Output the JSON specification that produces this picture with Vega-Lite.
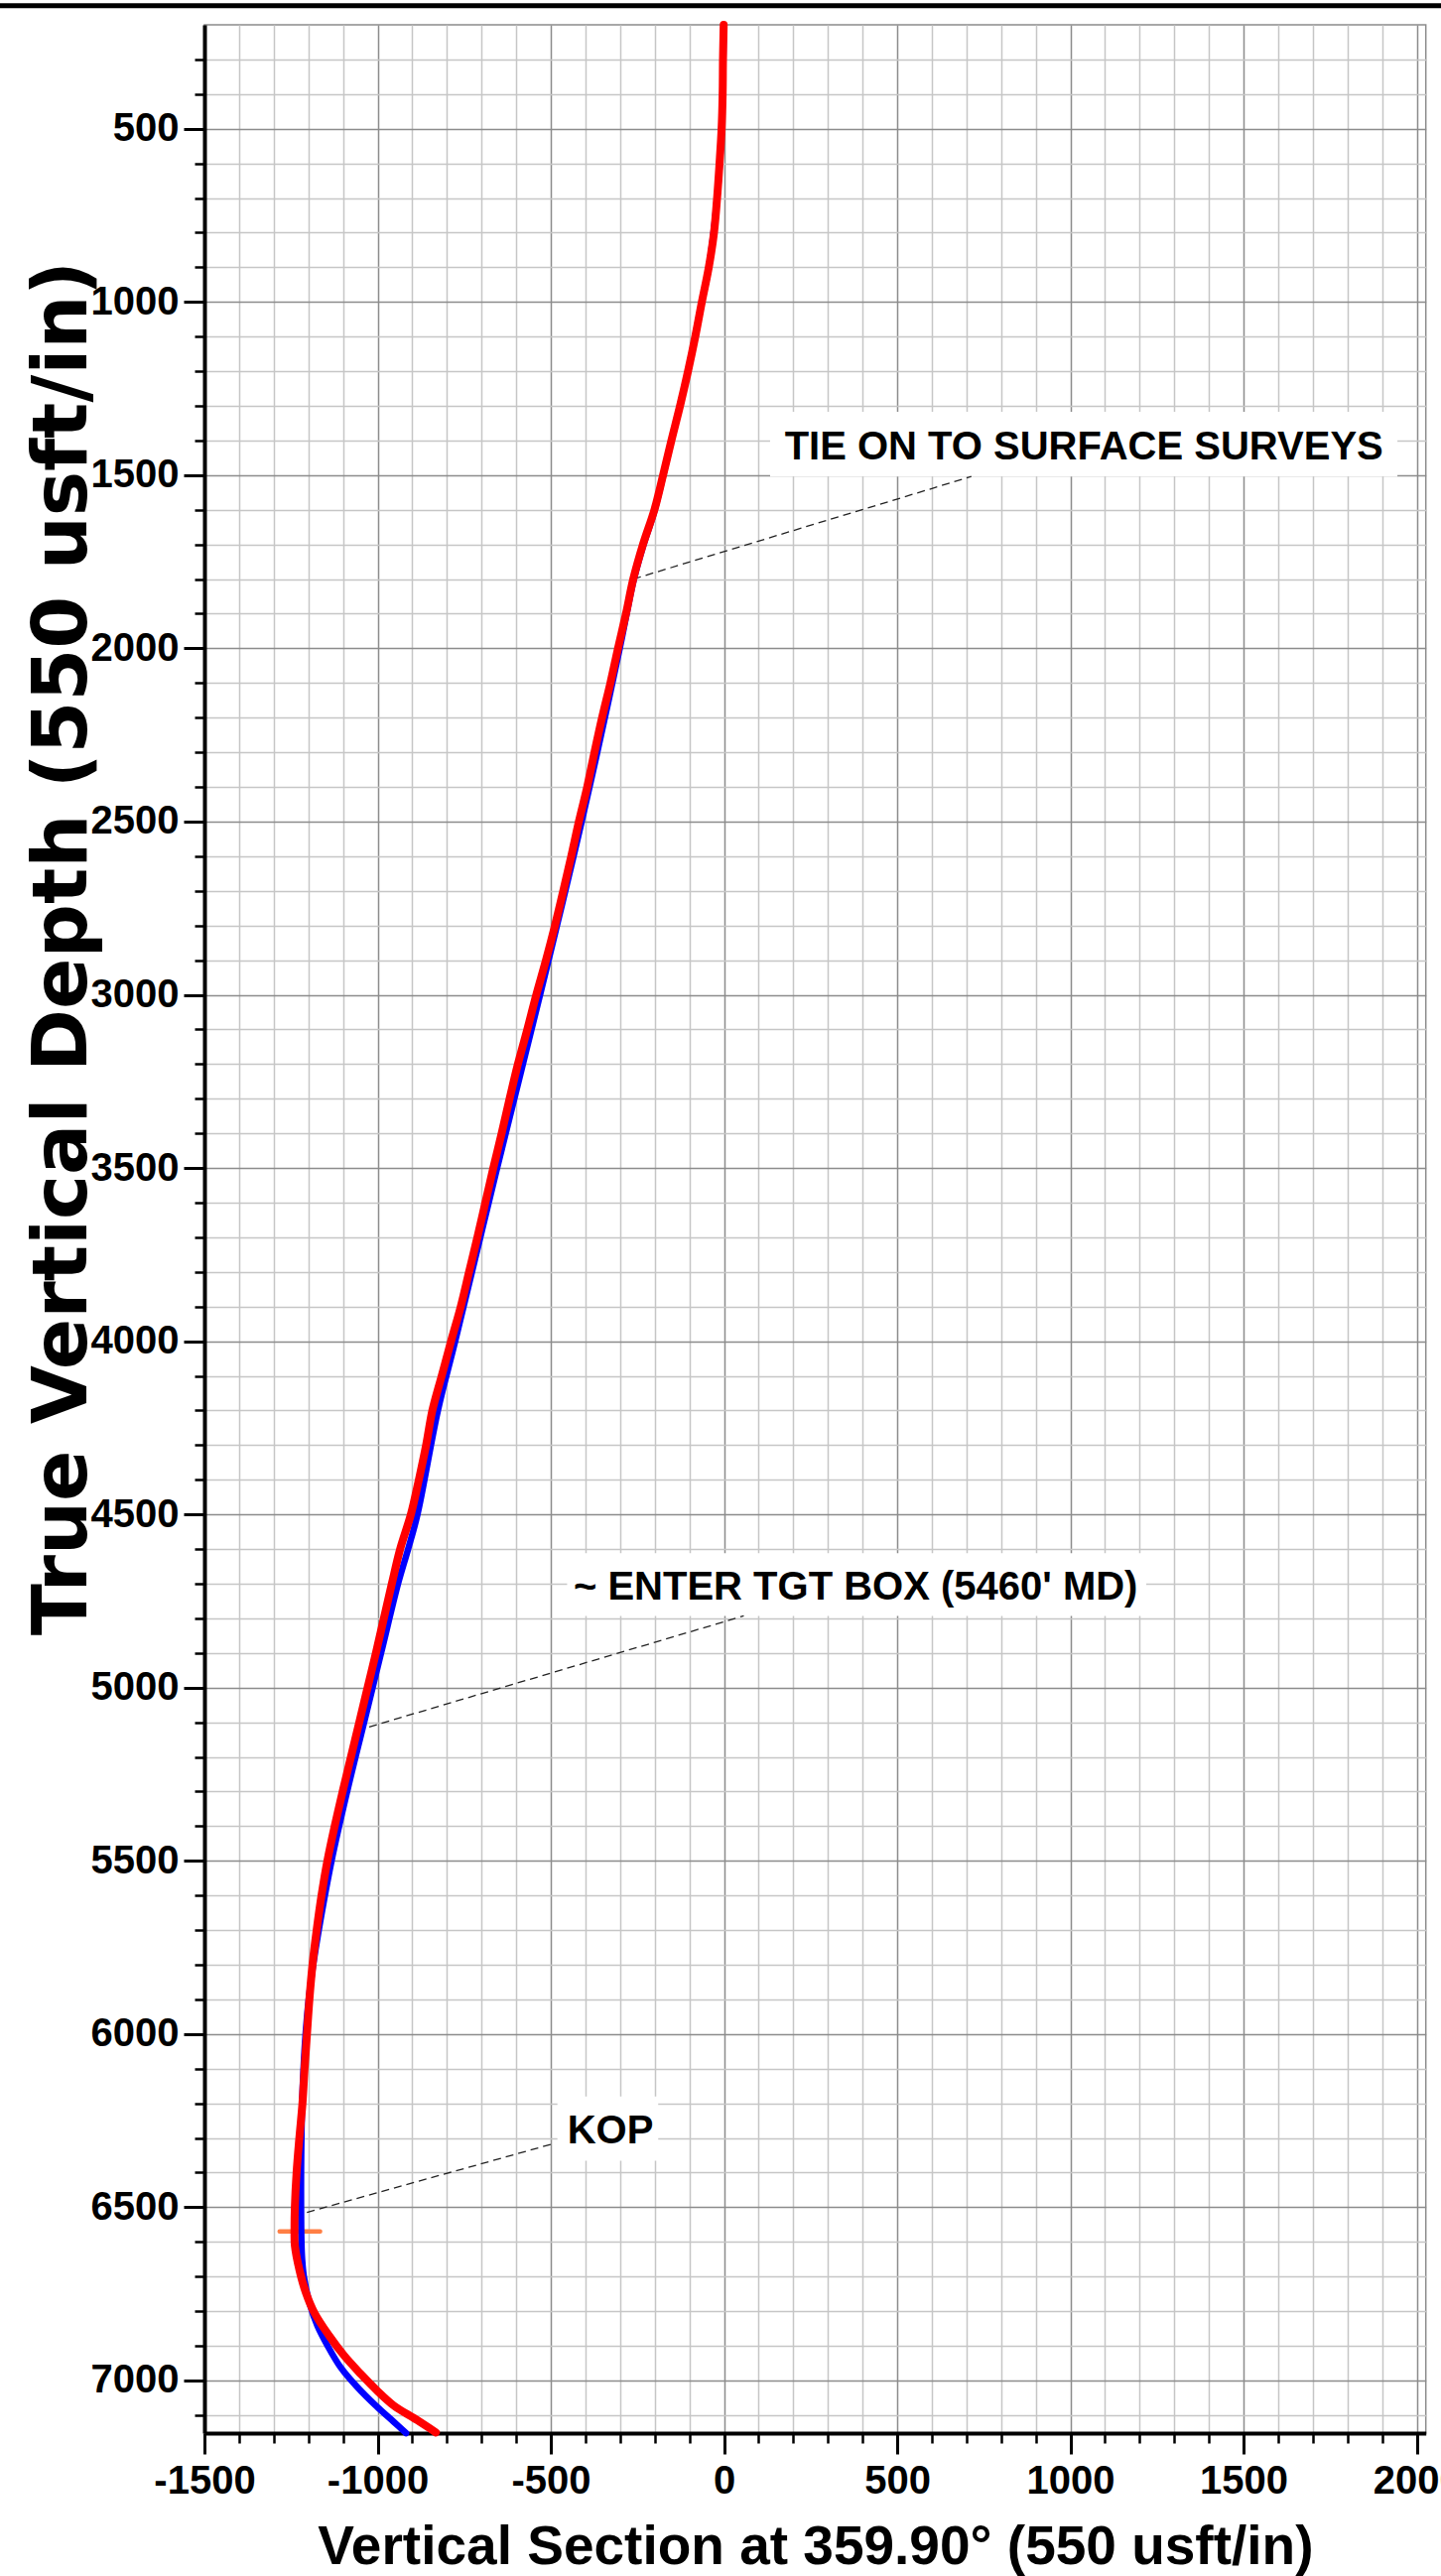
{
  "$schema": "https://vega.github.io/schema/vega-lite/v6.json",
  "width": 1230.7,
  "height": 2427,
  "autosize": {"type": "none"},
  "padding": {"left": 206, "top": 25, "right": 15.3, "bottom": 144},
  "background": "white",
  "config": {
    "view": {"stroke": "#8c8c8c", "strokeWidth": 1.5},
    "font": "Liberation Sans"
  },
  "datasets": {
    "actual": [
      {"tvd": 200, "vs": -1}, {"tvd": 300, "vs": -3}, {"tvd": 400, "vs": -4}, {"tvd": 500, "vs": -7},
      {"tvd": 600, "vs": -13}, {"tvd": 700, "vs": -20}, {"tvd": 800, "vs": -29}, {"tvd": 900, "vs": -44},
      {"tvd": 1000, "vs": -64}, {"tvd": 1100, "vs": -83}, {"tvd": 1200, "vs": -104}, {"tvd": 1300, "vs": -127},
      {"tvd": 1400, "vs": -152}, {"tvd": 1500, "vs": -176}, {"tvd": 1600, "vs": -201}, {"tvd": 1700, "vs": -234},
      {"tvd": 1800, "vs": -262}, {"tvd": 1900, "vs": -283}, {"tvd": 2000, "vs": -306}, {"tvd": 2100, "vs": -328},
      {"tvd": 2200, "vs": -352}, {"tvd": 2300, "vs": -374}, {"tvd": 2400, "vs": -395}, {"tvd": 2500, "vs": -419},
      {"tvd": 2600, "vs": -441}, {"tvd": 2700, "vs": -464}, {"tvd": 2800, "vs": -488}, {"tvd": 2900, "vs": -514},
      {"tvd": 3000, "vs": -542}, {"tvd": 3100, "vs": -568}, {"tvd": 3200, "vs": -595}, {"tvd": 3300, "vs": -619},
      {"tvd": 3400, "vs": -642}, {"tvd": 3500, "vs": -666}, {"tvd": 3600, "vs": -689}, {"tvd": 3700, "vs": -712},
      {"tvd": 3800, "vs": -736}, {"tvd": 3900, "vs": -760}, {"tvd": 4000, "vs": -788}, {"tvd": 4100, "vs": -815},
      {"tvd": 4200, "vs": -842}, {"tvd": 4300, "vs": -860}, {"tvd": 4400, "vs": -881}, {"tvd": 4500, "vs": -904},
      {"tvd": 4600, "vs": -935}, {"tvd": 4700, "vs": -959}, {"tvd": 4800, "vs": -982}, {"tvd": 4900, "vs": -1005},
      {"tvd": 5000, "vs": -1029}, {"tvd": 5100, "vs": -1053}, {"tvd": 5200, "vs": -1077}, {"tvd": 5300, "vs": -1101},
      {"tvd": 5400, "vs": -1124}, {"tvd": 5500, "vs": -1145}, {"tvd": 5600, "vs": -1162}, {"tvd": 5700, "vs": -1176},
      {"tvd": 5800, "vs": -1188}, {"tvd": 5900, "vs": -1197}, {"tvd": 6000, "vs": -1204}, {"tvd": 6100, "vs": -1211},
      {"tvd": 6200, "vs": -1217}, {"tvd": 6300, "vs": -1226}, {"tvd": 6400, "vs": -1234}, {"tvd": 6500, "vs": -1239},
      {"tvd": 6565, "vs": -1240}, {"tvd": 6610, "vs": -1239}, {"tvd": 6680, "vs": -1226}, {"tvd": 6747, "vs": -1207},
      {"tvd": 6804, "vs": -1183}, {"tvd": 6871, "vs": -1140}, {"tvd": 6928, "vs": -1097}, {"tvd": 6981, "vs": -1049},
      {"tvd": 7029, "vs": -1002}, {"tvd": 7072, "vs": -954}, {"tvd": 7114, "vs": -887}, {"tvd": 7150, "vs": -832}
    ],
    "plan": [
      {"tvd": 200, "vs": -1}, {"tvd": 500, "vs": -7}, {"tvd": 700, "vs": -20}, {"tvd": 900, "vs": -44},
      {"tvd": 1000, "vs": -64}, {"tvd": 1200, "vs": -104}, {"tvd": 1400, "vs": -152}, {"tvd": 1600, "vs": -200},
      {"tvd": 1700, "vs": -232}, {"tvd": 1800, "vs": -260}, {"tvd": 1900, "vs": -281}, {"tvd": 2000, "vs": -301},
      {"tvd": 2500, "vs": -411}, {"tvd": 3000, "vs": -531}, {"tvd": 3500, "vs": -655}, {"tvd": 4000, "vs": -776},
      {"tvd": 4200, "vs": -826}, {"tvd": 4500, "vs": -885}, {"tvd": 4600, "vs": -912}, {"tvd": 4700, "vs": -941},
      {"tvd": 4900, "vs": -990}, {"tvd": 5100, "vs": -1039}, {"tvd": 5300, "vs": -1088}, {"tvd": 5500, "vs": -1133},
      {"tvd": 5700, "vs": -1170}, {"tvd": 5800, "vs": -1186}, {"tvd": 5900, "vs": -1199}, {"tvd": 6000, "vs": -1208},
      {"tvd": 6100, "vs": -1214}, {"tvd": 6200, "vs": -1218}, {"tvd": 6300, "vs": -1220}, {"tvd": 6400, "vs": -1221},
      {"tvd": 6500, "vs": -1221}, {"tvd": 6600, "vs": -1220}, {"tvd": 6650, "vs": -1218}, {"tvd": 6700, "vs": -1213},
      {"tvd": 6776, "vs": -1197}, {"tvd": 6842, "vs": -1174}, {"tvd": 6899, "vs": -1145}, {"tvd": 6962, "vs": -1107},
      {"tvd": 7019, "vs": -1059}, {"tvd": 7076, "vs": -1002}, {"tvd": 7119, "vs": -954}, {"tvd": 7152, "vs": -918}
    ],
    "boxes": [
      {"x1": 133, "x2": 1944, "y1": 1317, "y2": 1504},
      {"x1": -453, "x2": 1219, "y1": 4612, "y2": 4793},
      {"x1": -481, "x2": -190, "y1": 6180, "y2": 6366}
    ],
    "leaders": [
      {"x1": -262, "y1": 1800, "x2": 714, "y2": 1504},
      {"x1": -1060, "y1": 5124, "x2": 57, "y2": 4793},
      {"x1": -1240, "y1": 6525, "x2": -495, "y2": 6317}
    ],
    "labels": [
      {"vs": 1039, "tvd": 1456, "text": "TIE ON TO SURFACE SURVEYS"},
      {"vs": 380, "tvd": 4746, "text": "~ ENTER TGT BOX (5460' MD)"},
      {"vs": -328, "tvd": 6317, "text": "KOP"}
    ],
    "kop": [{"x1": -1283, "x2": -1166, "tvd": 6570}],
    "band": [{"x1": -2100, "x2": 2100, "tvd": 145}]
  },
  "resolve": {"axis": {"x": "independent", "y": "independent"}},
  "layer": [
    {
      "data": {"name": "actual"},
      "mark": {"type": "point", "opacity": 0},
      "encoding": {
        "x": {"field": "vs", "type": "quantitative",
          "scale": {"domain": [-1500, 2026], "nice": false, "zero": false},
          "axis": {"orient": "bottom", "title": null, "labels": false, "domain": false,
            "values": [-1400,-1300,-1200,-1100,-900,-800,-700,-600,-400,-300,-200,-100,100,200,300,400,600,700,800,900,1100,1200,1300,1400,1600,1700,1800,1900],
            "grid": true, "gridColor": "#c6c6c6", "gridWidth": 1.5,
            "ticks": true, "tickSize": 10, "tickWidth": 2.5, "tickColor": "#000"}},
        "y": {"field": "tvd", "type": "quantitative",
          "scale": {"domain": [200, 7152], "nice": false, "zero": false, "reverse": true},
          "axis": {"orient": "left", "title": null, "labels": false, "domain": false,
            "values": [300,400,600,700,800,900,1100,1200,1300,1400,1600,1700,1800,1900,2100,2200,2300,2400,2600,2700,2800,2900,3100,3200,3300,3400,3600,3700,3800,3900,4100,4200,4300,4400,4600,4700,4800,4900,5100,5200,5300,5400,5600,5700,5800,5900,6100,6200,6300,6400,6600,6700,6800,6900,7100],
            "grid": true, "gridColor": "#c6c6c6", "gridWidth": 1.5,
            "ticks": true, "tickSize": 10, "tickWidth": 2.5, "tickColor": "#000"}}
      }
    },
    {
      "data": {"name": "actual"},
      "mark": {"type": "point", "opacity": 0},
      "encoding": {
        "x": {"field": "vs", "type": "quantitative",
          "scale": {"domain": [-1500, 2026], "nice": false, "zero": false},
          "axis": {"orient": "bottom", "values": [-1500,-1000,-500,0,500,1000,1500,2000],
            "grid": true, "gridColor": "#8c8c8c", "gridWidth": 1.5,
            "tickSize": 21, "tickWidth": 3, "tickColor": "#000",
            "domain": true, "domainColor": "#000", "domainWidth": 4,
            "labelFont": "Liberation Sans", "labelFontSize": 40, "labelFontWeight": "bold", "labelColor": "#000",
            "labelPadding": 7, "labelFlush": false, "labelOverlap": false, "labelBound": false,
            "labelExpr": "toString(datum.value)",
            "title": "Vertical Section at 359.90° (550 usft/in)",
            "titleFont": "Liberation Sans", "titleFontSize": 55, "titleFontWeight": "bold", "titleColor": "#000",
            "titleY": 131, "titleBaseline": "alphabetic"}},
        "y": {"field": "tvd", "type": "quantitative",
          "scale": {"domain": [200, 7152], "nice": false, "zero": false, "reverse": true},
          "axis": {"orient": "left", "values": [500,1000,1500,2000,2500,3000,3500,4000,4500,5000,5500,6000,6500,7000],
            "grid": true, "gridColor": "#8c8c8c", "gridWidth": 1.5,
            "tickSize": 21, "tickWidth": 3, "tickColor": "#000",
            "domain": true, "domainColor": "#000", "domainWidth": 4,
            "labelFont": "Liberation Sans", "labelFontSize": 40, "labelFontWeight": "bold", "labelColor": "#000",
            "labelPadding": 5, "labelOverlap": false, "labelBound": false,
            "labelExpr": "toString(datum.value)",
            "title": "True Vertical Depth (550 usft/in)",
            "titleFont": "DejaVu Sans", "titleFontSize": 76, "titleFontWeight": "bold", "titleColor": "#000",
            "titleAngle": 270, "titleAlign": "center", "titleBaseline": "alphabetic",
            "titleX": -120, "titleY": 930}}
      }
    },
    {
      "data": {"name": "boxes"},
      "mark": {"type": "rect", "color": "white"},
      "encoding": {
        "x": {"field": "x1", "type": "quantitative", "axis": null},
        "x2": {"field": "x2"},
        "y": {"field": "y1", "type": "quantitative", "axis": null},
        "y2": {"field": "y2"}
      }
    },
    {
      "data": {"name": "leaders"},
      "mark": {"type": "rule", "color": "#222222", "strokeWidth": 1.3, "strokeDash": [8, 5]},
      "encoding": {
        "x": {"field": "x1", "type": "quantitative", "axis": null},
        "x2": {"field": "x2"},
        "y": {"field": "y1", "type": "quantitative", "axis": null},
        "y2": {"field": "y2"}
      }
    },
    {
      "data": {"name": "kop"},
      "mark": {"type": "rule", "color": "#ff7f45", "strokeWidth": 4.5, "strokeCap": "round"},
      "encoding": {
        "x": {"field": "x1", "type": "quantitative", "axis": null},
        "x2": {"field": "x2"},
        "y": {"field": "tvd", "type": "quantitative", "axis": null}
      }
    },
    {
      "data": {"name": "plan"},
      "mark": {"type": "line", "color": "#0000ff", "strokeWidth": 6.5, "strokeCap": "round", "strokeJoin": "round", "interpolate": "catmull-rom"},
      "encoding": {
        "x": {"field": "vs", "type": "quantitative", "axis": null},
        "y": {"field": "tvd", "type": "quantitative", "axis": null},
        "order": {"field": "tvd", "type": "quantitative"}
      }
    },
    {
      "data": {"name": "actual"},
      "mark": {"type": "line", "color": "#ff0000", "strokeWidth": 8, "strokeCap": "round", "strokeJoin": "round", "interpolate": "catmull-rom"},
      "encoding": {
        "x": {"field": "vs", "type": "quantitative", "axis": null},
        "y": {"field": "tvd", "type": "quantitative", "axis": null},
        "order": {"field": "tvd", "type": "quantitative"}
      }
    },
    {
      "data": {"name": "labels"},
      "mark": {"type": "text", "font": "Liberation Sans", "fontSize": 40, "fontWeight": "bold", "color": "#000", "align": "center", "baseline": "alphabetic"},
      "encoding": {
        "x": {"field": "vs", "type": "quantitative", "axis": null},
        "y": {"field": "tvd", "type": "quantitative", "axis": null},
        "text": {"field": "text"}
      }
    },
    {
      "data": {"name": "band"},
      "mark": {"type": "rule", "color": "#000", "strokeWidth": 5},
      "encoding": {
        "x": {"field": "x1", "type": "quantitative", "axis": null},
        "x2": {"field": "x2"},
        "y": {"field": "tvd", "type": "quantitative", "axis": null}
      }
    }
  ]
}
